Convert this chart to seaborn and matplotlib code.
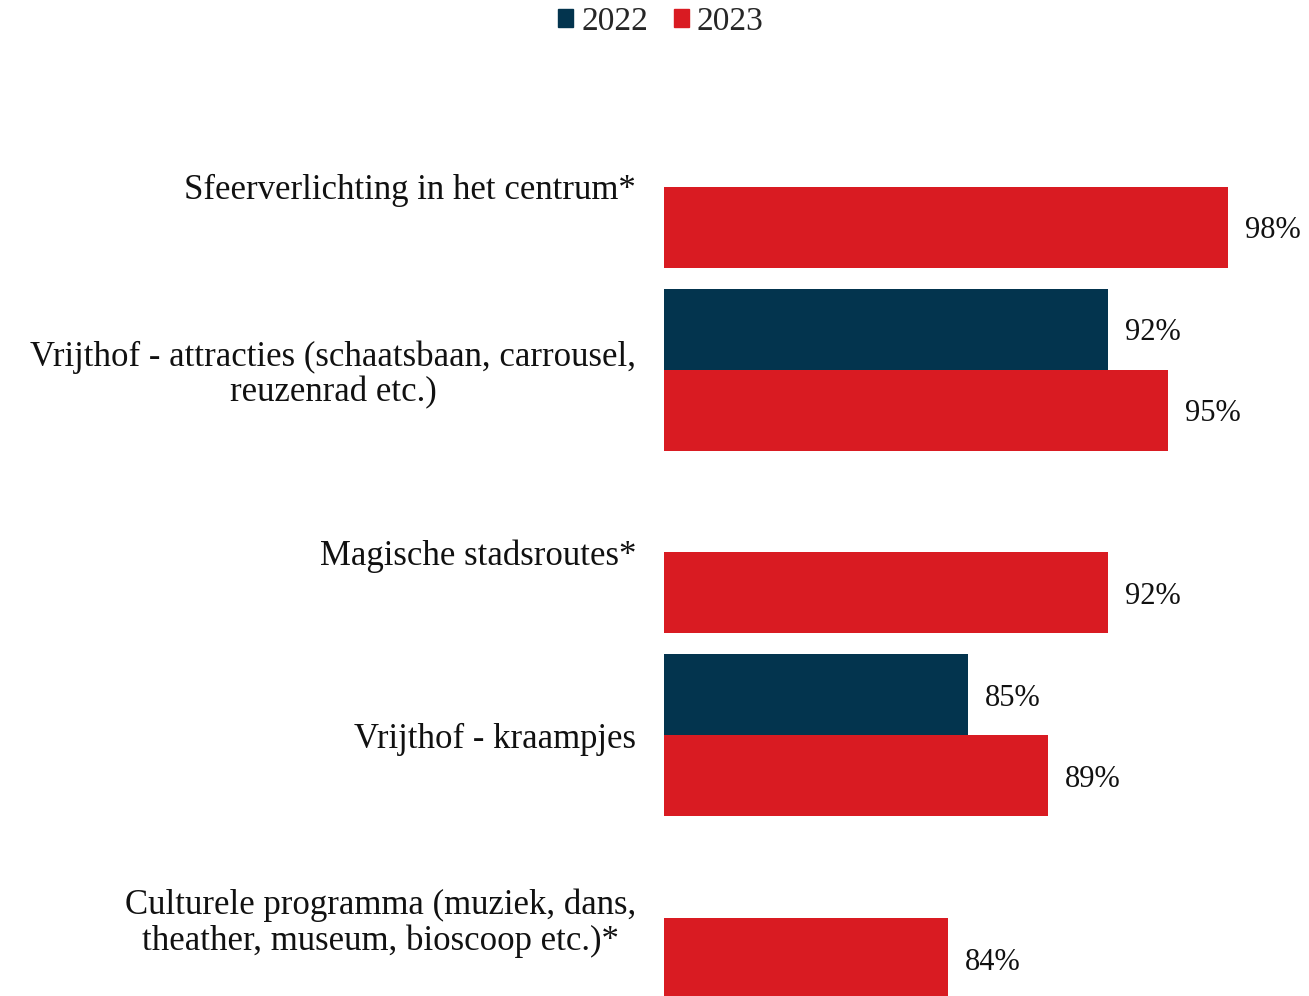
import numpy as np
import pandas as pd
import matplotlib
matplotlib.use("Agg")
import matplotlib.pyplot as plt
import seaborn as sns

categories = [
    "Sfeerverlichting in het centrum*",
    "Vrijthof - attracties (schaatsbaan, carrousel,\nreuzenrad etc.)",
    "Magische stadsroutes*",
    "Vrijthof - kraampjes",
    "Culturele programma (muziek, dans,\ntheather, museum, bioscoop etc.)*",
]
years = ["2022", "2023"]
values_2022 = [np.nan, 92, np.nan, 85, np.nan]
values_2023 = [98, 95, 92, 89, 84]
colors = {"2022": "#03344E", "2023": "#D91B22"}

df = pd.DataFrame({
    "categorie": categories * 2,
    "jaar": ["2022"] * len(categories) + ["2023"] * len(categories),
    "waarde": values_2022 + values_2023,
})

sns.set_style("white")
plt.rcParams["font.family"] = ["Liberation Serif", "DejaVu Serif"]

W, H = 1309, 996
fig = plt.figure(figsize=(W / 100, H / 100), dpi=100)
# axes from x=664 to 1309 px, y top at 95.5 px down to the bottom edge
ax = fig.add_axes([664 / W, 0, (W - 664) / W, (H - 95.5) / H])

sns.barplot(data=df, y="categorie", x="waarde", hue="jaar", hue_order=years,
            palette=colors, orient="h", width=0.885, ax=ax, legend=False,
            saturation=1, edgecolor="none", errorbar=None)

# x: bars start just below 70%, 20 px per percent
ax.set_xlim(69.8, 69.8 + (W - 664) / 20)
ax.set_ylim(4.5 - 13.5 / 183, -0.5)

for cont in ax.containers:
    labels = ["" if np.isnan(v) else f"{v:.0f}%" for v in cont.datavalues]
    anns = ax.bar_label(cont, labels=labels, padding=12, fontsize=22, color="#111111")
    for a in anns:
        a.xyann = (12, -2.5)

ax.set_xlabel("")
ax.set_ylabel("")
ax.set_xticks([])
ax.set_yticks(range(len(categories)))
ax.set_yticklabels(categories, fontsize=25, color="#111111", ha="right",
                   multialignment="center", linespacing=1.1)
ax.tick_params(axis="y", length=0, pad=20)
sns.despine(ax=ax, left=True, bottom=True)

handles = [plt.Rectangle((0, 0), 1, 1, color=colors[y]) for y in years]
fig.legend(handles, years, loc="center", bbox_to_anchor=(661 / W, 1 - 22 / H),
           ncol=2, frameon=False, fontsize=24, handlelength=0.45,
           handleheight=0.45, handletextpad=0.25, columnspacing=0.75)

fig.savefig("out.png", dpi=100)
